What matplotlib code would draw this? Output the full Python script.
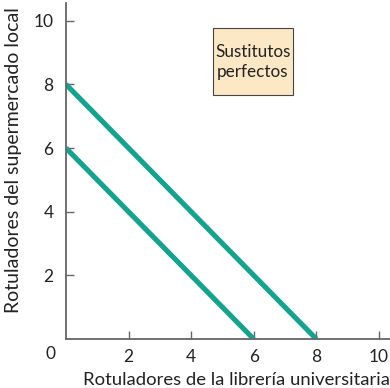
"""
Perfect substitutes: two indifference curves for markers.
"""

from matplotlib import pyplot as plt
from matplotlib.patches import Rectangle

# indifference curves (x = university bookstore, y = local supermarket)
curve_low_x = [0, 6]
curve_low_y = [6, 0]
curve_high_x = [0, 8]
curve_high_y = [8, 0]

x_ticks = [2, 4, 6, 8, 10]
y_ticks = [2, 4, 6, 8, 10]

teal = '#14a38e'
grey = '#666666'
ink = '#222222'

plt.rcParams['font.family'] = ['Lato', 'DejaVu Sans']

fig = plt.figure(figsize=[3.9, 3.88], dpi=100)
ax = fig.add_axes([0.169, 0.126, 0.831, 0.866])

ax.plot(curve_low_x, curve_low_y, color=teal, linewidth=3.7, solid_capstyle='butt')
ax.plot(curve_high_x, curve_high_y, color=teal, linewidth=3.7, solid_capstyle='butt')

ax.set_xlim(0, 10.35)
ax.set_ylim(0, 10.55)

ax.spines['top'].set_visible(False)
ax.spines['right'].set_visible(False)
for s in ['left', 'bottom']:
    ax.spines[s].set_color(grey)
    ax.spines[s].set_linewidth(1.3)

ax.set_xticks(x_ticks)
ax.set_yticks(y_ticks)
ax.tick_params(direction='in', length=6, width=1, color=grey,
               labelsize=12.5, labelcolor=ink, pad=7)
ax.tick_params(axis='y', pad=9)
ax.text(-0.48, -0.22, '0', ha='center', va='top', fontsize=12.5, color=ink)

ax.set_xlabel('Rotuladores de la librería universitaria', fontsize=13.3, color=ink)
ax.set_ylabel('Rotuladores del supermercado local', fontsize=14, color=ink)
ax.xaxis.set_label_coords(0.525, -0.097)
ax.yaxis.set_label_coords(-0.136, 0.533)

# label box
ax.add_patch(Rectangle((4.70, 7.65), 2.55, 2.13, facecolor='#fde8c6',
                       edgecolor='#444444', linewidth=0.8, zorder=3))
ax.text(5.97, 8.7, 'Sustitutos\nperfectos', ha='center', va='center', fontsize=12.3,
        color=ink, linespacing=1.25, zorder=4)

plt.savefig('out.png')
